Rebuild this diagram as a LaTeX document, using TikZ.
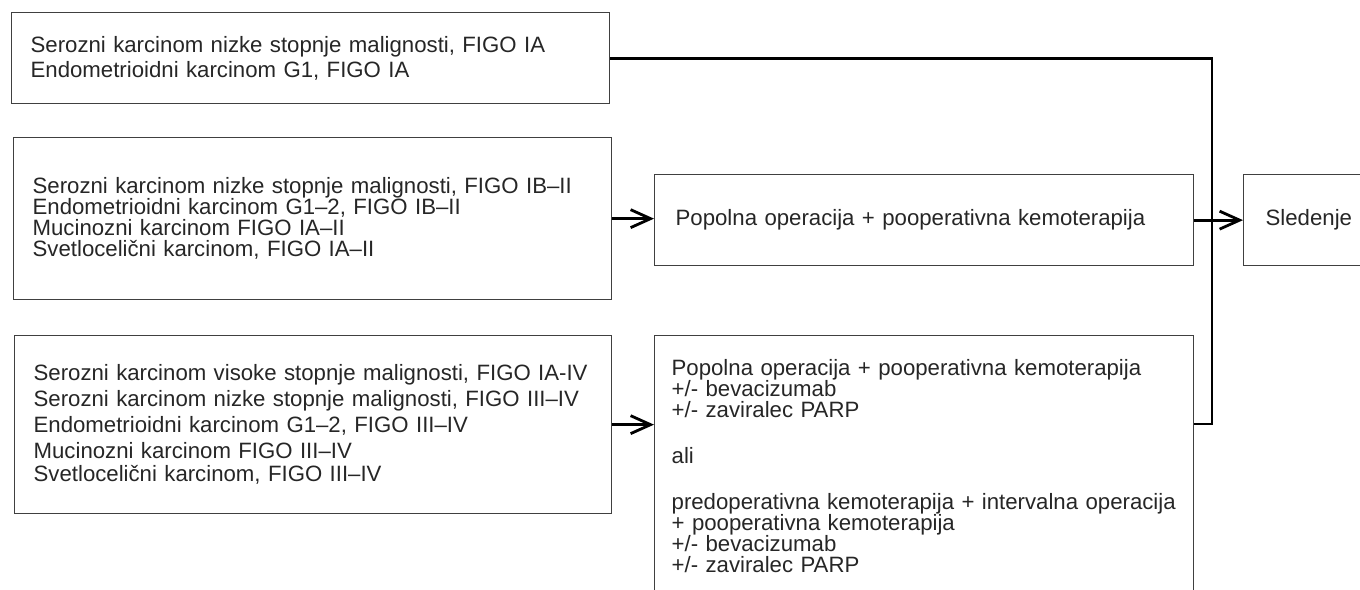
\documentclass[tikz,border=0pt]{standalone}
\usepackage{fontspec}
\setmainfont{Liberation Sans}
\usetikzlibrary{arrows.meta}

\begin{document}
\begin{tikzpicture}[x = 1pt, y = -1pt, > = {Straight Barb[length = 20pt, width = 18pt]},
	box/.style = {draw = black!75, line width = 1.3pt, anchor = north west, align = left,
		inner xsep = 19pt, text width = #1, text = black!85, font = \fontsize{22.2}{21}\selectfont},
	wire/.style = {line width = 2.8pt}]
	
	\useasboundingbox (0, 0) rectangle (1360, 589);
	
	% Diagnosis groups
	
	\node [box = 560pt, minimum height = 91pt, font = \fontsize{22.2}{25}\selectfont] (low) at (11, 12)
		{Serozni karcinom nizke stopnje malignosti, FIGO IA\\
		Endometrioidni karcinom G1, FIGO IA};
	
	\node [box = 560pt, minimum height = 162pt] (mid) at (13, 137)
		{Serozni karcinom nizke stopnje malignosti, FIGO IB–II\\
		Endometrioidni karcinom G1–2, FIGO IB–II\\
		Mucinozni karcinom FIGO IA–II\\
		Svetlocelični karcinom, FIGO IA–II};
	
	\node [box = 559pt, minimum height = 178pt, font = \fontsize{22.2}{26}\selectfont] (high) at (14, 335)
		{Serozni karcinom visoke stopnje malignosti, FIGO IA-IV\\
		Serozni karcinom nizke stopnje malignosti, FIGO III–IV\\
		Endometrioidni karcinom G1–2, FIGO III–IV\\
		Mucinozni karcinom FIGO III–IV\\[-3pt]
		Svetlocelični karcinom, FIGO III–IV};
	
	% Treatment and follow-up
	
	\node [box = 497pt, inner xsep = 21pt, minimum height = 91pt] (std) at (654, 174)
		{Popolna operacija + pooperativna kemoterapija};
	
	\node [box = 505pt, inner xsep = 17pt, inner ysep = 24pt] (adv) at (654, 335)
		{Popolna operacija + pooperativna kemoterapija\\
		+/- bevacizumab\\
		+/- zaviralec PARP\\[25pt]
		ali\\[25pt]
		predoperativna kemoterapija + intervalna operacija\\
		+ pooperativna kemoterapija\\
		+/- bevacizumab\\
		+/- zaviralec PARP};
	
	\node [box = 100pt, inner xsep = 22pt, minimum height = 91pt] (follow) at (1243, 174) {Sledenje};
	
	% Connectors
	
	\coordinate (bus) at (1212, 424);
	
	\draw [wire] (low.east) -| (bus) -- (bus -| adv.east);
	\draw [wire, ->] (mid.east) -- (mid.east -| std.west);
	\draw [wire, ->] (high.east) -- (high.east -| adv.west);
	\draw [wire, ->] (std.east) -- (follow.west);
	
\end{tikzpicture}
\end{document}
